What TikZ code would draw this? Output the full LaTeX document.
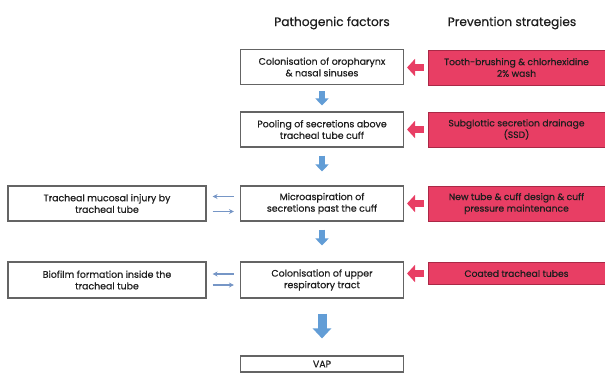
\documentclass[tikz,border=0pt]{standalone}
\usepackage{fontspec}
\setmainfont{Poppins}[FakeBold=0.5]
\usetikzlibrary{arrows.meta}
\definecolor{redfill}{RGB}{232,62,100}
\definecolor{redline}{RGB}{170,40,70}
\definecolor{blueA}{RGB}{98,157,214}
\definecolor{blueT}{RGB}{118,150,198}
\definecolor{boxline}{RGB}{100,100,100}
\definecolor{txt}{RGB}{30,30,30}
\tikzset{
  x=1pt, y=-1pt,
  hdr/.style={font=\fontsize{12.2}{14}\selectfont, text=txt},
  pbox/.style={draw=boxline, line width=1.1pt, fill=white, minimum width=163pt, minimum height=35pt, align=center, inner sep=0pt, font=\fontsize{9.4}{11.6}\selectfont, text=txt},
  lbox/.style={pbox, minimum width=198pt},
  rbox/.style={draw=redline, line width=0.7pt, fill=redfill, minimum width=177pt, minimum height=35pt, align=center, inner sep=0pt, font=\fontsize{9.2}{11.6}\selectfont, text=txt},
  parrow/.style={draw=redfill, line width=7pt, -{Triangle[width=17pt,length=8pt]}, shorten <=4pt, shorten >=3pt},
  darrow/.style={draw=blueA, line width=6pt, -{Triangle[width=13pt,length=7pt]}},
  bigarrow/.style={draw=blueA, line width=9pt, -{Triangle[width=18pt,length=10pt]}},
  tarrow/.style={draw=blueT, line width=1.4pt, -{Stealth[width=5pt,length=5pt]}, shorten <=6pt, shorten >=6pt},
}
\begin{document}
\begin{tikzpicture}
\useasboundingbox (0,0) rectangle (605,376);
\node[hdr] (hp) at (332,23) {Pathogenic factors};
\node[hdr] (hs) at (512,23) {Prevention strategies};

\node[pbox] (b1) at (322,67) {Colonisation of oropharynx\\ \& nasal sinuses};
\node[pbox] (b2) at (322,129.5) {Pooling of secretions above\\tracheal tube cuff};
\node[pbox] (b3) at (322,203.5) {Microaspiration of\\secretions past the cuff};
\node[pbox, minimum height=36pt] (b4) at (322,280) {Colonisation of upper\\respiratory tract};
\node[pbox, minimum height=16pt] (vap) at (322,364) {VAP};

\node[lbox] (l3) at (107,203.5) {Tracheal mucosal injury by\\tracheal tube};
\node[lbox, minimum height=36pt] (l4) at (107,280) {Biofilm formation inside the\\tracheal tube};

\node[rbox] (r1) at (516.5,67.5) {Tooth-brushing \& chlorhexidine\\2\% wash};
\node[rbox] (r2) at (516.5,129.5) {Subglottic secretion drainage\\(SSD)};
\node[rbox] (r3) at (516.5,203.5) {New tube \& cuff design \& cuff\\pressure maintenance};
\node[rbox, minimum height=22pt] (r4) at (516.5,273.5) {Coated tracheal tubes};

\draw[parrow] (r1.west) -- (b1.east |- r1.west);
\draw[parrow] (r2.west) -- (b2.east |- r2.west);
\draw[parrow] (r3.west) -- (b3.east |- r3.west);
\draw[parrow] (r4.west) -- (b4.east |- r4.west);

\draw[darrow, shorten <=6pt, shorten >=6pt] (b1) -- (b2);
\draw[darrow, shorten <=8pt, shorten >=14pt] (b2) -- (b3);
\draw[darrow, shorten <=8pt, shorten >=16pt] (b3) -- (b4);
\draw[bigarrow, shorten <=15pt, shorten >=17pt] (b4) -- (vap);

\draw[tarrow] ([yshift=7pt]b3.west) -- ([yshift=7pt]b3.west -| l3.east);
\draw[tarrow] ([yshift=-8pt]l3.east) -- ([yshift=-8pt]l3.east -| b3.west);
\draw[tarrow] ([yshift=6pt]b4.west) -- ([yshift=6pt]b4.west -| l4.east);
\draw[tarrow] ([yshift=-5pt]l4.east) -- ([yshift=-5pt]l4.east -| b4.west);
\end{tikzpicture}
\end{document}
